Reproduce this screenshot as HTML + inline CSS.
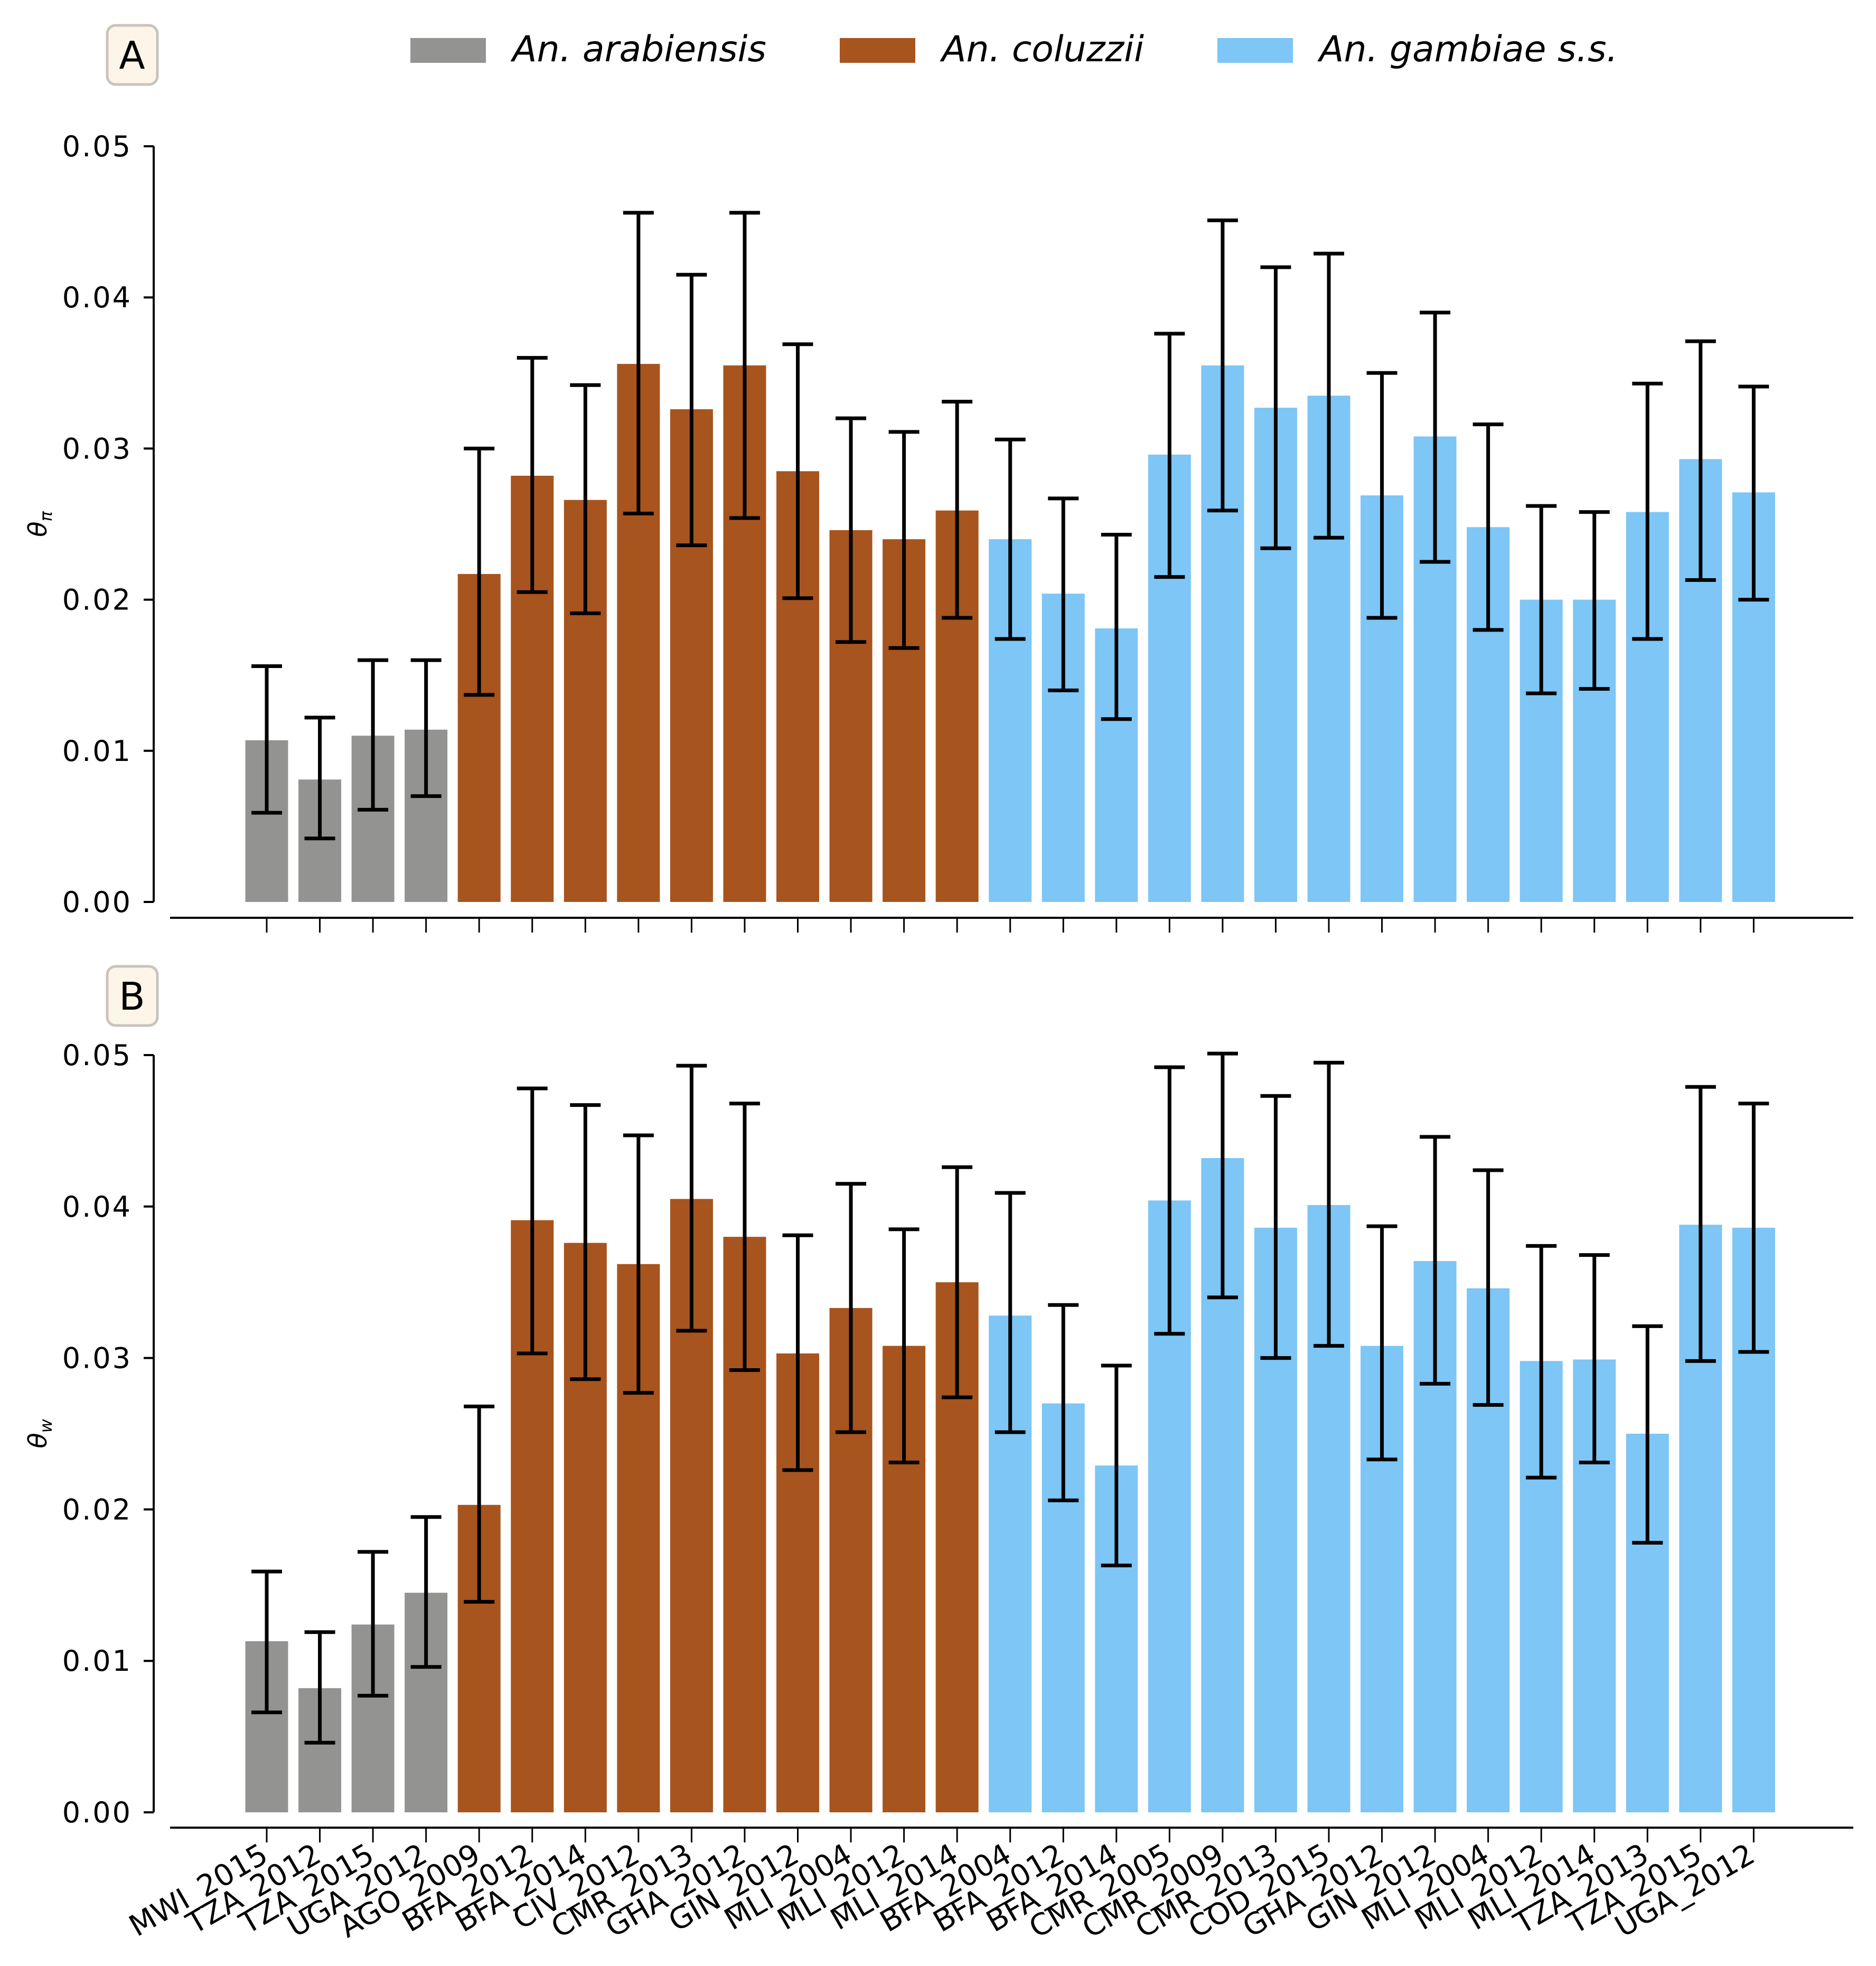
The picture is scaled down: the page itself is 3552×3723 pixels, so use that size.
<!DOCTYPE html>
<html><head><meta charset="utf-8"><style>
html,body{margin:0;padding:0;background:#fff;}
svg{display:block;font-family:"DejaVu Sans","Liberation Sans",sans-serif;}
</style></head><body>
<svg id="chart" width="3552" height="3723" viewBox="0 0 3552 3723" xmlns="http://www.w3.org/2000/svg">
<g>
  <rect x="777" y="72" width="143" height="47" fill="#939491"/>
  <text x="970" y="116" font-size="68" font-style="italic">An. arabiensis</text>
  <rect x="1590" y="72" width="143" height="47" fill="#a8541e"/>
  <text x="1783" y="116" font-size="68" font-style="italic">An. coluzzii</text>
  <rect x="2305" y="72" width="143" height="47" fill="#7dc6f5"/>
  <text x="2498" y="116" font-size="68" font-style="italic">An. gambiae s.s.</text>
</g>
</svg>
<script>
const categories=["MWI_2015","TZA_2012","TZA_2015","UGA_2012","AGO_2009","BFA_2012","BFA_2014","CIV_2012","CMR_2013","GHA_2012","GIN_2012","MLI_2004","MLI_2012","MLI_2014","BFA_2004","BFA_2012","BFA_2014","CMR_2005","CMR_2009","CMR_2013","COD_2015","GHA_2012","GIN_2012","MLI_2004","MLI_2012","MLI_2014","TZA_2013","TZA_2015","UGA_2012"];
const species=["ara","ara","ara","ara","col","col","col","col","col","col","col","col","col","col","gam","gam","gam","gam","gam","gam","gam","gam","gam","gam","gam","gam","gam","gam","gam"];
const piValues=[0.0107,0.0081,0.0110,0.0114,0.0217,0.0282,0.0266,0.0356,0.0326,0.0355,0.0285,0.0246,0.0240,0.0259,0.0240,0.0204,0.0181,0.0296,0.0355,0.0327,0.0335,0.0269,0.0308,0.0248,0.0200,0.0200,0.0258,0.0293,0.0271];
const piLow=[0.0059,0.0042,0.0061,0.0070,0.0137,0.0205,0.0191,0.0257,0.0236,0.0254,0.0201,0.0172,0.0168,0.0188,0.0174,0.0140,0.0121,0.0215,0.0259,0.0234,0.0241,0.0188,0.0225,0.0180,0.0138,0.0141,0.0174,0.0213,0.0200];
const piHigh=[0.0156,0.0122,0.0160,0.0160,0.0300,0.0360,0.0342,0.0456,0.0415,0.0456,0.0369,0.0320,0.0311,0.0331,0.0306,0.0267,0.0243,0.0376,0.0451,0.0420,0.0429,0.0350,0.0390,0.0316,0.0262,0.0258,0.0343,0.0371,0.0341];
const wValues=[0.0113,0.0082,0.0124,0.0145,0.0203,0.0391,0.0376,0.0362,0.0405,0.0380,0.0303,0.0333,0.0308,0.0350,0.0328,0.0270,0.0229,0.0404,0.0432,0.0386,0.0401,0.0308,0.0364,0.0346,0.0298,0.0299,0.0250,0.0388,0.0386];
const wLow=[0.0066,0.0046,0.0077,0.0096,0.0139,0.0303,0.0286,0.0277,0.0318,0.0292,0.0226,0.0251,0.0231,0.0274,0.0251,0.0206,0.0163,0.0316,0.0340,0.0300,0.0308,0.0233,0.0283,0.0269,0.0221,0.0231,0.0178,0.0298,0.0304];
const wHigh=[0.0159,0.0119,0.0172,0.0195,0.0268,0.0478,0.0467,0.0447,0.0493,0.0468,0.0381,0.0415,0.0385,0.0426,0.0409,0.0335,0.0295,0.0492,0.0501,0.0473,0.0495,0.0387,0.0446,0.0424,0.0374,0.0368,0.0321,0.0479,0.0468];
const yTicks=[0,0.01,0.02,0.03,0.04,0.05];
const yTickLabels=["0.00","0.01","0.02","0.03","0.04","0.05"];

const NS="http://www.w3.org/2000/svg";
const svg=document.getElementById('chart');
const colors={ara:"#939491",col:"#a8541e",gam:"#7dc6f5"};
function mk(tag,attrs,parent){const e=document.createElementNS(NS,tag);for(const k in attrs)e.setAttribute(k,attrs[k]);parent.appendChild(e);return e;}
function xAt(i){return 505+i*100.55;}
const bw=81;

function panel(cfg){
  const g=mk('g',{},svg);
  
  
  const yAt=v=>cfg.y0-(v/0.05)*(cfg.y0-cfg.y5);
  for(let i=0;i<categories.length;i++){
    const v=cfg.vals[i];
    const r=mk('rect',{x:xAt(i)-bw/2,y:yAt(v),width:bw,height:yAt(0)-yAt(v),fill:colors[species[i]]},g);
    
    
  }
  for(let i=0;i<categories.length;i++){
    const x=xAt(i),lo=yAt(cfg.lo[i]),hi=yAt(cfg.hi[i]);
    const e=mk('path',{d:`M${x},${lo}V${hi}M${x-29},${lo}H${x+29}M${x-29},${hi}H${x+29}`,stroke:"#000","stroke-width":7,fill:"none"},g);
    
    
  }
  const ya=mk('line',{x1:291,x2:291,y1:yAt(0.05),y2:yAt(0),stroke:"#000","stroke-width":4},g);
  
  
  for(let k=0;k<yTicks.length;k++){
    const y=yAt(yTicks[k]);
    mk('line',{x1:272,x2:291,y1:y,y2:y,stroke:"#000","stroke-width":4},g);
    const t=mk('text',{x:250,y:y+19,"font-size":54,"text-anchor":"end","letter-spacing":3},g);
    
    
    t.textContent=yTickLabels[k];
  }
  const xa=mk('line',{x1:322,x2:3509,y1:cfg.xaxis,y2:cfg.xaxis,stroke:"#000","stroke-width":4},g);
  
  
  for(let i=0;i<categories.length;i++){
    mk('line',{x1:xAt(i),x2:xAt(i),y1:cfg.xaxis,y2:cfg.xaxis+28,stroke:"#000","stroke-width":3},g);
    if(cfg.labels){
      const t=mk('text',{x:xAt(i)+6,y:cfg.xaxis+62,"font-size":56,"text-anchor":"end",transform:`rotate(-30 ${xAt(i)+6} ${cfg.xaxis+62})`},g);
      
      
      t.textContent=categories[i];
    }
  }
  const yt=mk('text',{x:0,y:0,"font-size":48,"font-style":"italic","text-anchor":"middle",transform:`translate(88 ${(yAt(0)+yAt(0.05))/2}) rotate(-90)`},g);
  
  
  yt.textContent='θ';
  const sub=mk('tspan',{"font-size":32,dy:10},yt);sub.textContent=cfg.sub;
  const bx=mk('rect',{x:203,y:cfg.boxY,width:95,height:112,rx:16,fill:"#fdf5e8",stroke:"#c8c4bd","stroke-width":5},g);
  
  
  const pl=mk('text',{x:250,y:cfg.boxY+82,"font-size":72,"text-anchor":"middle"},g);
  
  
  pl.textContent=cfg.letter;
}
panel({name:'panel-a-theta-pi',vals:piValues,lo:piLow,hi:piHigh,y0:1708,y5:277,xaxis:1738,labels:false,sub:'π',letter:'A',boxY:48});
panel({name:'panel-b-theta-w',vals:wValues,lo:wLow,hi:wHigh,y0:3432,y5:1998,xaxis:3461,labels:true,sub:'w',letter:'B',boxY:1830});
</script>
</body></html>
